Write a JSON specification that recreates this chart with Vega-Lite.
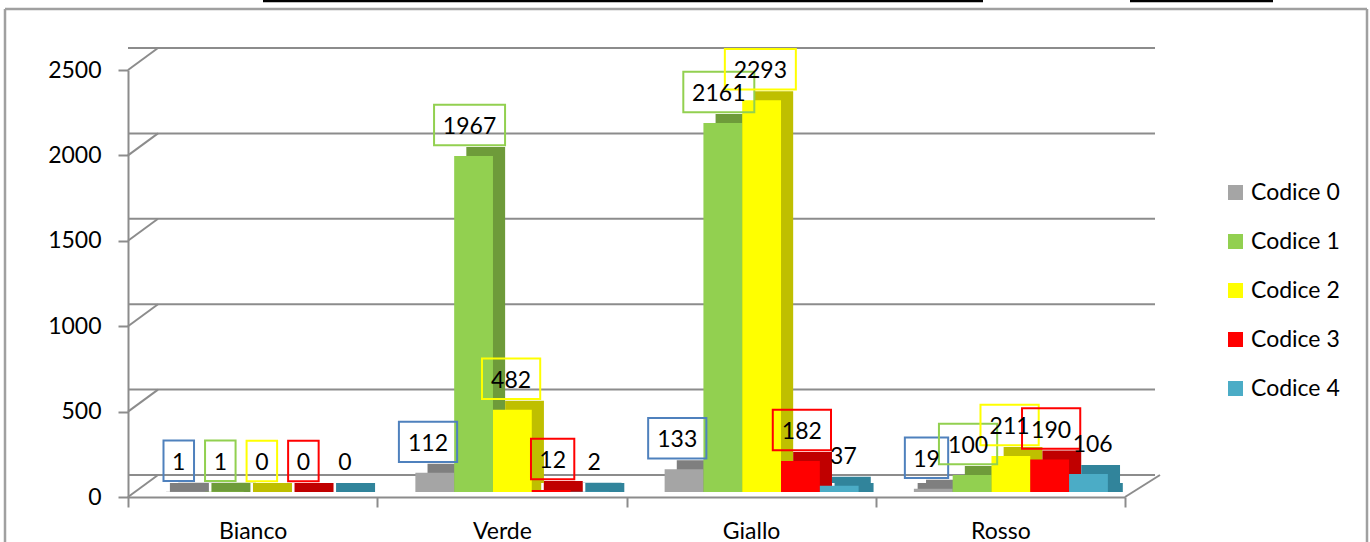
{
  "$schema": "https://vega.github.io/schema/vega-lite/v6.json",
  "width": 997,
  "height": 427,
  "autosize": {"type": "none"},
  "padding": {"left": 128, "top": 70, "right": 245, "bottom": 45},
  "background": "white",
  "config": {
    "view": {"stroke": null},
    "font": "Lato",
    "axis": {"domainColor": "#8c8c8c", "domainWidth": 2, "tickColor": "#8c8c8c", "tickWidth": 2, "tickSize": 10, "labelFont": "Lato", "labelFontSize": 23, "labelColor": "#000000", "grid": false},
    "axisX": {"labelPadding": 13, "labelAngle": 0, "tickBand": "extent"},
    "axisY": {"labelPadding": 17, "tickCount": 5, "format": "d"}
  },
  "resolve": {"scale": {"xOffset": "independent", "color": "independent"}, "legend": {"color": "independent"}},
  "datasets": {
    "bars": [
      {"cat": "Bianco", "code": "Codice 0", "v": 1},
      {"cat": "Bianco", "code": "Codice 1", "v": 1},
      {"cat": "Bianco", "code": "Codice 2", "v": 0},
      {"cat": "Bianco", "code": "Codice 3", "v": 0},
      {"cat": "Bianco", "code": "Codice 4", "v": 0},
      {"cat": "Verde", "code": "Codice 0", "v": 112},
      {"cat": "Verde", "code": "Codice 1", "v": 1967},
      {"cat": "Verde", "code": "Codice 2", "v": 482},
      {"cat": "Verde", "code": "Codice 3", "v": 12},
      {"cat": "Verde", "code": "Codice 4", "v": 2},
      {"cat": "Giallo", "code": "Codice 0", "v": 133},
      {"cat": "Giallo", "code": "Codice 1", "v": 2161},
      {"cat": "Giallo", "code": "Codice 2", "v": 2293},
      {"cat": "Giallo", "code": "Codice 3", "v": 182},
      {"cat": "Giallo", "code": "Codice 4", "v": 37},
      {"cat": "Rosso", "code": "Codice 0", "v": 19},
      {"cat": "Rosso", "code": "Codice 1", "v": 100},
      {"cat": "Rosso", "code": "Codice 2", "v": 211},
      {"cat": "Rosso", "code": "Codice 3", "v": 190},
      {"cat": "Rosso", "code": "Codice 4", "v": 106}
    ],
    "grid": [{"g": 0}, {"g": 500}, {"g": 1000}, {"g": 1500}, {"g": 2000}, {"g": 2500}],
    "frame": [{"t": 2857, "b": 0, "k": 2904}]
  },
  "layer": [
    {
      "data": {"name": "frame"},
      "mark": {"type": "rule", "color": "#a0a0a0", "strokeWidth": 2.5, "xOffset": -123, "x2Offset": 242},
      "encoding": {
        "x": {"datum": "Bianco", "type": "nominal", "bandPosition": 0, "title": null},
        "x2": {"datum": "Rosso", "bandPosition": 1},
        "y": {"field": "t", "type": "quantitative", "title": null, "scale": {"domain": [0, 2500], "nice": false}},
        "y2": {"field": "t"}
      }
    },
    {
      "data": {"name": "frame"},
      "mark": {"type": "rule", "color": "#a0a0a0", "strokeWidth": 2.5, "xOffset": -123, "x2Offset": -123, "y2Offset": 60},
      "encoding": {
        "x": {"datum": "Bianco", "type": "nominal", "bandPosition": 0, "title": null},
        "x2": {"datum": "Bianco", "bandPosition": 0},
        "y": {"field": "t", "type": "quantitative", "title": null},
        "y2": {"field": "b"}
      }
    },
    {
      "data": {"name": "frame"},
      "mark": {"type": "rule", "color": "#a0a0a0", "strokeWidth": 2.5, "xOffset": 242, "x2Offset": 242, "y2Offset": 60},
      "encoding": {
        "x": {"datum": "Rosso", "type": "nominal", "bandPosition": 1, "title": null},
        "x2": {"datum": "Rosso", "bandPosition": 1},
        "y": {"field": "t", "type": "quantitative", "title": null},
        "y2": {"field": "b"}
      }
    },
    {
      "data": {"name": "frame"},
      "mark": {"type": "rule", "color": "#000000", "strokeWidth": 2.5, "xOffset": 135, "x2Offset": 855},
      "encoding": {
        "x": {"datum": "Bianco", "type": "nominal", "bandPosition": 0, "title": null},
        "x2": {"datum": "Bianco", "bandPosition": 0},
        "y": {"field": "k", "type": "quantitative", "title": null},
        "y2": {"field": "k"}
      }
    },
    {
      "data": {"name": "frame"},
      "mark": {"type": "rule", "color": "#000000", "strokeWidth": 2.5, "xOffset": 5, "x2Offset": 148},
      "encoding": {
        "x": {"datum": "Rosso", "type": "nominal", "bandPosition": 1, "title": null},
        "x2": {"datum": "Rosso", "bandPosition": 1},
        "y": {"field": "k", "type": "quantitative", "title": null},
        "y2": {"field": "k"}
      }
    },
    {
      "data": {"name": "grid"},
      "mark": {"type": "rule", "color": "#8c8c8c", "strokeWidth": 2, "xOffset": 30, "x2Offset": 35, "yOffset": -22},
      "encoding": {
        "y": {"field": "g", "type": "quantitative", "title": null}
      }
    },
    {
      "data": {"name": "grid"},
      "mark": {"type": "rule", "color": "#8c8c8c", "strokeWidth": 2, "x2Offset": 30, "y2Offset": -22},
      "encoding": {
        "x": {"datum": "Bianco", "type": "nominal", "bandPosition": 0, "title": null},
        "x2": {"datum": "Bianco", "bandPosition": 0},
        "y": {"field": "g", "type": "quantitative", "title": null},
        "y2": {"field": "g"}
      }
    },
    {
      "data": {"values": [{"g": 0}]},
      "mark": {"type": "rule", "color": "#8c8c8c", "strokeWidth": 2, "x2Offset": 35, "y2Offset": -22},
      "encoding": {
        "x": {"datum": "Rosso", "type": "nominal", "bandPosition": 1, "title": null},
        "x2": {"datum": "Rosso", "bandPosition": 1},
        "y": {"field": "g", "type": "quantitative", "title": null},
        "y2": {"field": "g"}
      }
    },
    {
      "data": {"name": "bars"},
      "mark": {"type": "bar", "yOffset": -14, "y2Offset": -5},
      "encoding": {
        "x": {"field": "cat", "type": "nominal", "title": null, "scale": {"domain": ["Bianco", "Verde", "Giallo", "Rosso"], "paddingInner": 0, "paddingOuter": 0}},
        "xOffset": {"field": "code", "type": "nominal", "scale": {"domain": ["Codice 0", "Codice 1", "Codice 2", "Codice 3", "Codice 4"], "paddingInner": 0, "paddingOuter": 0.712, "align": 0.91}},
        "y": {"field": "v", "type": "quantitative", "title": null},
        "color": {"field": "code", "type": "nominal", "scale": {"domain": ["Codice 0", "Codice 1", "Codice 2", "Codice 3", "Codice 4"], "range": ["#7f7f7f", "#6e9b3a", "#bfbf00", "#c00000", "#31849b"]}, "legend": null}
      }
    },
    {
      "data": {"name": "bars"},
      "mark": {"type": "tick", "orient": "horizontal", "size": 39, "thickness": 9, "opacity": 1, "yOffset": -9.5},
      "encoding": {
        "x": {"field": "cat", "type": "nominal", "title": null},
        "xOffset": {"field": "code", "type": "nominal", "scale": {"type": "point", "domain": ["Codice 0", "Codice 1", "Codice 2", "Codice 3", "Codice 4"], "padding": 1.212, "align": 0.739}},
        "y": {"datum": 0, "type": "quantitative"},
        "color": {"field": "code", "type": "nominal", "scale": {"domain": ["Codice 0", "Codice 1", "Codice 2", "Codice 3", "Codice 4"], "range": ["#7f7f7f", "#6e9b3a", "#bfbf00", "#c00000", "#31849b"]}, "legend": null}
      }
    },
    {
      "data": {"name": "bars"},
      "mark": {"type": "bar", "yOffset": -5, "y2Offset": -5},
      "encoding": {
        "x": {"field": "cat", "type": "nominal", "title": null},
        "xOffset": {"field": "code", "type": "nominal", "scale": {"domain": ["Codice 0", "Codice 1", "Codice 2", "Codice 3", "Codice 4"], "paddingInner": 0, "paddingOuter": 0.712, "align": 0.69}},
        "y": {"field": "v", "type": "quantitative", "title": null},
        "color": {"field": "code", "type": "nominal", "scale": {"domain": ["Codice 0", "Codice 1", "Codice 2", "Codice 3", "Codice 4"], "range": ["#a5a5a5", "#92d050", "#ffff00", "#ff0000", "#4bacc6"]},
          "legend": {"orient": "none", "legendX": 1096, "legendY": 111, "title": null, "symbolType": "square", "symbolSize": 225, "symbolStrokeWidth": 0, "labelFont": "Lato", "labelFontSize": 23, "labelColor": "#000000", "rowPadding": 25, "labelOffset": 4, "padding": 0}}
      }
    },
    {
      "data": {"name": "bars"},
      "transform": [{"filter": "datum.code != 'Codice 4'"}],
      "mark": {"type": "point", "filled": false, "opacity": 1, "size": 5041, "strokeWidth": 2, "yOffset": -36},
      "encoding": {
        "x": {"field": "cat", "type": "nominal", "title": null},
        "xOffset": {"field": "code", "type": "nominal", "scale": {"type": "point", "domain": ["Codice 0", "Codice 1", "Codice 2", "Codice 3", "Codice 4"], "padding": 1.212, "align": 0.611}},
        "y": {"field": "v", "type": "quantitative", "title": null},
        "color": {"field": "code", "type": "nominal", "scale": {"domain": ["Codice 0", "Codice 1", "Codice 2", "Codice 3"], "range": ["#4f81bd", "#92d050", "#ffff00", "#ff0000"]}, "legend": null},
        "shape": {
          "condition": [
            {"test": "datum.v >= 1000", "value": "M-1,-0.57L1,-0.57L1,0.57L-1,0.57Z"},
            {"test": "datum.v >= 100", "value": "M-0.82,-0.57L0.82,-0.57L0.82,0.57L-0.82,0.57Z"},
            {"test": "datum.v >= 10", "value": "M-0.61,-0.57L0.61,-0.57L0.61,0.57L-0.61,0.57Z"}
          ],
          "value": "M-0.43,-0.57L0.43,-0.57L0.43,0.57L-0.43,0.57Z"
        }
      }
    },
    {
      "data": {"name": "bars"},
      "mark": {"type": "text", "font": "Lato", "fontSize": 23, "color": "#000000", "baseline": "middle", "yOffset": -34},
      "encoding": {
        "x": {"field": "cat", "type": "nominal", "title": null},
        "xOffset": {"field": "code", "type": "nominal", "scale": {"type": "point", "domain": ["Codice 0", "Codice 1", "Codice 2", "Codice 3", "Codice 4"], "padding": 1.212, "align": 0.611}},
        "y": {"field": "v", "type": "quantitative", "title": null},
        "text": {"field": "v", "type": "quantitative"}
      }
    }
  ]
}
